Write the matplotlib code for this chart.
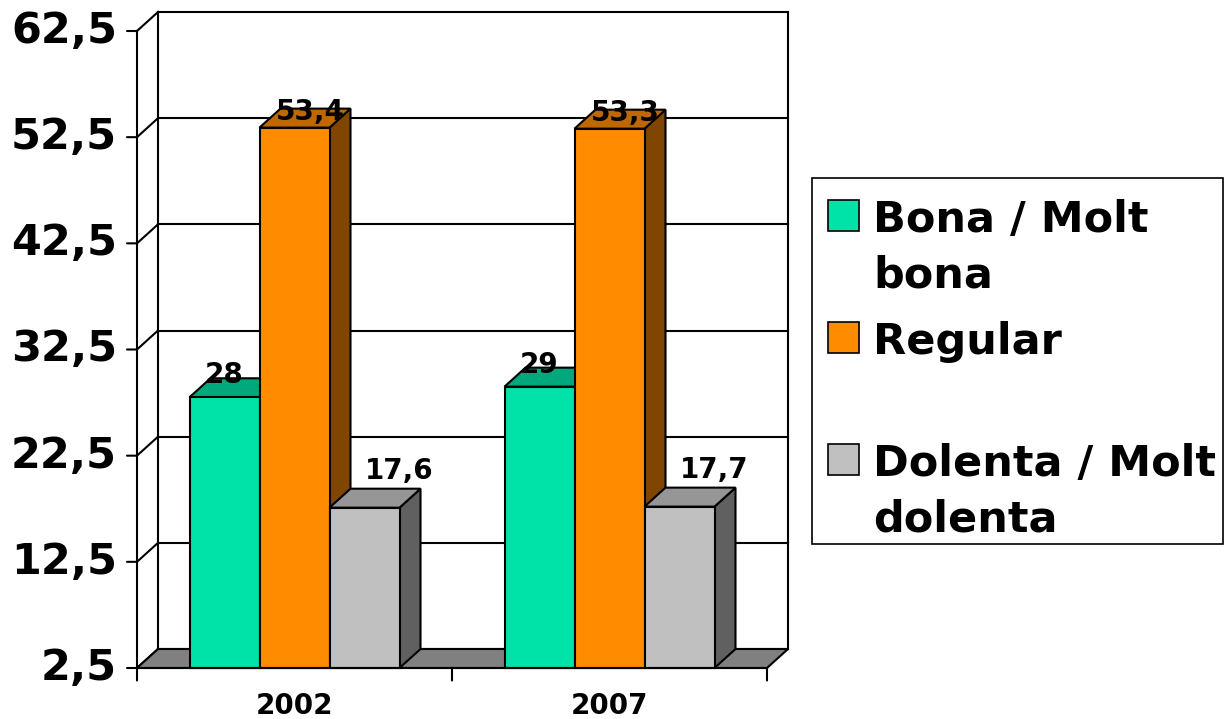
import matplotlib.pyplot as plt
from matplotlib.patches import Polygon, Rectangle

# dades
years = ['2002', '2007']
series = ['Bona / Molt\nbona', 'Regular', 'Dolenta / Molt\ndolenta']
bona = [28, 29]
regular = [53.4, 53.3]
dolenta = [17.6, 17.7]
values = [bona, regular, dolenta]
yticks = [2.5, 12.5, 22.5, 32.5, 42.5, 52.5, 62.5]

# colors: frontal, superior, lateral
front_cols = ['#00E3A8', '#FF8C00', '#C0C0C0']
top_cols = ['#00A87C', '#C06800', '#969696']
side_cols = ['#007A5A', '#804600', '#606060']

W, H = 1225, 719
fig = plt.figure(figsize=(W / 100, H / 100), dpi=100)

DX = 21 / 315.0      # profunditat en unitats de categoria
DY = 19 / 10.617     # profunditat en unitats de valor
ymin, ymax = yticks[0], yticks[-1]

ax = fig.add_axes([137 / W, (H - 668) / H, (788 - 137) / W, (668 - 12) / H])
ax.set_xlim(0, len(years) + DX)
ax.set_ylim(ymin, ymax + DY)
ax.axis('off')

lw = 1.5
nx = len(years)

# parets: línies de quadrícula al fons i a la paret esquerra
for t in yticks:
    ax.plot([DX, nx + DX], [t + DY, t + DY], color='black', lw=lw, zorder=1,
            clip_on=False, solid_capstyle='projecting')
    ax.plot([0, DX], [t, t + DY], color='black', lw=lw, zorder=1, clip_on=False)
ax.plot([DX, DX], [ymin + DY, ymax + DY], color='black', lw=lw, zorder=1, clip_on=False)
ax.plot([nx + DX, nx + DX], [ymin + DY, ymax + DY], color='black', lw=lw, zorder=1,
        clip_on=False)
ax.plot([0, 0], [ymin, ymax], color='black', lw=lw, zorder=1, clip_on=False)

# terra
ax.add_patch(Polygon([(0, ymin), (nx, ymin), (nx + DX, ymin + DY), (DX, ymin + DY)],
                     closed=True, facecolor='#808080', edgecolor='black', lw=lw,
                     zorder=2, clip_on=False))

# eixos: marques i etiquetes
for t in yticks:
    ax.annotate('', xy=(0, t), xytext=(-7.2, 0), textcoords='offset points',
                arrowprops=dict(arrowstyle='-', lw=lw, color='black',
                                shrinkA=0, shrinkB=0), annotation_clip=False)
    ax.annotate(f'{t:.1f}'.replace('.', ','), xy=(0, t), xytext=(-14.4, 0),
                textcoords='offset points', ha='right', va='center',
                fontsize=31, fontweight='bold', annotation_clip=False)
ax.plot([0, nx], [ymin, ymin], color='black', lw=lw, zorder=20, clip_on=False)
for k in range(nx + 1):
    ax.annotate('', xy=(k, ymin), xytext=(0, -9), textcoords='offset points',
                arrowprops=dict(arrowstyle='-', lw=lw, color='black',
                                shrinkA=0, shrinkB=0), annotation_clip=False)
for i, yr in enumerate(years):
    ax.annotate(yr, xy=(i + 0.5, ymin), xytext=(0, -27), textcoords='offset points',
                ha='center', va='center', fontsize=20, fontweight='bold',
                annotation_clip=False)

# barres 3D
bw = 2 / 9.0
lab_dx = [0.0, 0.05, 0.11]
lab_dy = [1.3, 0.75, 2.7]
z = 5
for i in range(nx):
    for j, vals in enumerate(values):
        v = vals[i]
        x0 = i + 1 / 6.0 + j * bw
        x1 = x0 + bw
        ax.add_patch(Polygon([(x1, ymin), (x1, v), (x1 + DX, v + DY), (x1 + DX, ymin + DY)],
                             closed=True, facecolor=side_cols[j], edgecolor='black',
                             lw=lw, zorder=z, clip_on=False))
        ax.add_patch(Polygon([(x0, v), (x1, v), (x1 + DX, v + DY), (x0 + DX, v + DY)],
                             closed=True, facecolor=top_cols[j], edgecolor='black',
                             lw=lw, zorder=z, clip_on=False))
        ax.bar(x0, v - ymin, bottom=ymin, width=bw, align='edge', color=front_cols[j],
               edgecolor='black', lw=lw, zorder=z + 0.5, clip_on=False)
        z += 1
        ax.text(x0 + bw / 2 + lab_dx[j], v + lab_dy[j], f'{v:g}'.replace('.', ','),
                ha='center', va='baseline', fontsize=20, fontweight='bold', zorder=50)

# llegenda
fig.patches.append(Rectangle((812 / W, 1 - 544 / H), (1223 - 812) / W, (544 - 178) / H,
                             transform=fig.transFigure, facecolor='white',
                             edgecolor='black', lw=1.2))
baselines = [232, 354, 476]
for j, name in enumerate(series):
    b = baselines[j]
    fig.patches.append(Rectangle((828 / W, 1 - (b - 1) / H), 31 / W, 31 / H,
                                 transform=fig.transFigure, facecolor=front_cols[j],
                                 edgecolor='black', lw=1.2))
    for k, line in enumerate(name.split('\n')):
        fig.text(873 / W, 1 - (b + 56 * k) / H, line, ha='left', va='baseline',
                 fontsize=31, fontweight='bold')

fig.savefig('out.png', dpi=100)
